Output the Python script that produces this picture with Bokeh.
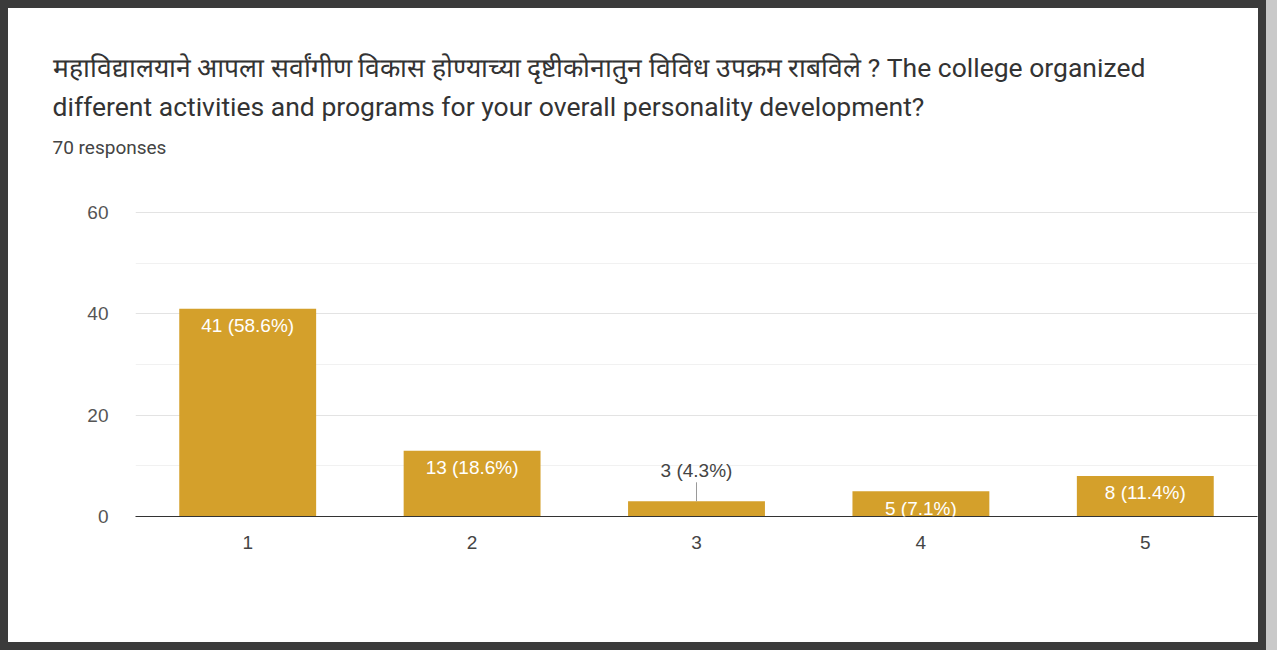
from bokeh.plotting import figure
from bokeh.models import (ColumnDataSource, LabelSet, FactorRange, Range1d,
                          FixedTicker, Title)
from bokeh.core.properties import value
from bokeh.embed import file_html
from bokeh.resources import INLINE

# ---- data ----
categories = ["1", "2", "3", "4", "5"]
counts = [41, 13, 3, 5, 8]
total_responses = 70
y_ticks = [0, 20, 40, 60]
y_minor_ticks = [10, 30, 50]
title_line1 = "महाविद्यालयाने आपला सर्वांगीण विकास होण्याच्या दृष्टीकोनातुन विविध उपक्रम राबविले ?   The college organized"
title_line2 = "different activities and programs for your overall personality development?"
subtitle = f"{total_responses} responses"

labels = [f"{c} ({c / total_responses * 100:.1f}%)" for c in counts]
inside = [c >= 4 for c in counts]

BAR = "#d4a02b"
TFONT = "Roboto"
AFONT = "Liberation Sans"
EDGE = "8px solid #3b3b3b"

PX_PER_UNIT = 304 / 60.0
TOP_PAD = 44 / PX_PER_UNIT  # empty space in the frame above the 60 gridline

p = figure(x_range=FactorRange(*categories), y_range=Range1d(0, 60 + TOP_PAD),
           width=1250, height=634, output_backend="svg", toolbar_location=None,
           min_border_left=127, min_border_right=17, min_border_top=160,
           min_border_bottom=142, background_fill_color="white",
           border_fill_color="white", outline_line_color=None,
           styles={"border-left": EDGE, "border-top": EDGE, "border-right": EDGE,
                   "border-bottom": EDGE, "box-sizing": "content-box",
                   "box-shadow": "11px 0 0 #c9c9c9"})

src_in = ColumnDataSource(dict(
    x=[c for c, i in zip(categories, inside) if i],
    top=[v for v, i in zip(counts, inside) if i],
    lab=[l for l, i in zip(labels, inside) if i]))
src_out = ColumnDataSource(dict(
    x=[c for c, i in zip(categories, inside) if not i],
    top=[v for v, i in zip(counts, inside) if not i],
    lab=[l for l, i in zip(labels, inside) if not i],
    lead=[v + 19 / PX_PER_UNIT for v, i in zip(counts, inside) if not i]))
src_all = ColumnDataSource(dict(x=categories, top=counts))

p.vbar(x="x", top="top", width=0.61, source=src_all, fill_color=BAR, line_color=None)

p.add_layout(LabelSet(x="x", y="top", text="lab", source=src_in, text_color="white",
                      text_font=value(AFONT), text_font_size="19px",
                      text_align="center", text_baseline="middle", y_offset=-17))
p.segment(x0="x", y0="top", x1="x", y1="lead", source=src_out, line_color="#9a9a9a",
          line_width=1)
p.add_layout(LabelSet(x="x", y="top", text="lab", source=src_out, text_color="#444444",
                      text_font=value(AFONT), text_font_size="19px",
                      text_align="center", text_baseline="middle", y_offset=31))

# axes
p.yaxis.ticker = FixedTicker(ticks=y_ticks, minor_ticks=y_minor_ticks)
p.yaxis.axis_line_color = None
p.yaxis.major_tick_line_color = None
p.yaxis.minor_tick_line_color = None
p.yaxis.major_label_text_color = "#555555"
p.yaxis.major_label_text_font = AFONT
p.yaxis.major_label_text_font_size = "19px"
p.yaxis.major_label_standoff = 21

p.xaxis.axis_line_color = "#333333"
p.xaxis.axis_line_width = 1
p.xaxis.major_tick_line_color = None
p.xaxis.minor_tick_line_color = None
p.xaxis.major_label_text_color = "#444444"
p.xaxis.major_label_text_font = AFONT
p.xaxis.major_label_text_font_size = "19px"
p.xaxis.major_label_standoff = 13

p.xgrid.grid_line_color = None
p.ygrid.grid_line_color = "#e3e3e3"
p.ygrid.minor_grid_line_color = "#f1f1f1"

# titles: stacked above the frame (first added = closest to the plot)
for txt, size, color, standoff in [(subtitle, "19px", "#444444", 19),
                                   (title_line2, "26.5px", "#333333", 6),
                                   (title_line1, "26.5px", "#333333", 6)]:
    p.add_layout(Title(text=txt, align="left", offset=-83, standoff=standoff,
                       text_font=TFONT, text_font_size=size, text_color=color,
                       text_font_style="normal"), "above")

open("out.html", "w").write(file_html(p, INLINE))
